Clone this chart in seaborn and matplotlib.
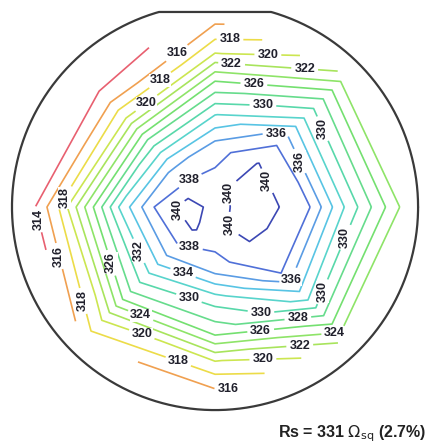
import matplotlib.pyplot as plt
import numpy as np
import seaborn as sns

sns.set_theme(style='white')
plt.rcParams['font.family'] = ['Liberation Sans', 'DejaVu Sans']

# measurement rings (mm from wafer centre) and rays (deg, ccw from east)
radii = [0, 15, 30, 46, 62, 77, 92]
angles = [0, 45, 90, 135, 180, 225, 270, 315]

# sheet resistance (ohm/sq) along each ray, centre -> edge
rs_e = [339.5, 340.5, 340.2, 338.3, 332.5, 328.0, 323.7]
rs_ne = [339.5, 340.3, 340.1, 337.5, 332.0, 327.5, 322.5]
rs_n = [339.5, 338.5, 336.8, 331.8, 326.0, 319.5, 315.5]
rs_nw = [339.5, 338.8, 335.5, 328.5, 320.0, 314.5, 312.5]
rs_w = [339.5, 340.8, 338.0, 332.7, 325.0, 318.0, 312.8]
rs_sw = [339.5, 340.2, 337.2, 332.0, 327.0, 320.5, 316.5]
rs_s = [339.5, 338.8, 337.1, 330.8, 326.5, 319.5, 315.3]
rs_se = [339.5, 340.3, 339.8, 338.0, 333.0, 327.5, 322.5]

levels = [314, 316, 318, 320, 322, 324, 326, 328, 330, 332, 334, 336, 338, 340]
level_colours = ['#e86070', '#f0a050', '#ecdc48', '#cce650', '#a8e45c', '#8ee468',
                 '#74e070', '#66dc8c', '#58d8aa', '#58d4cc', '#58c4e4', '#5a9ce4',
                 '#5070d8', '#3c48b4']
mean_rs = 331
uniformity = 2.7

# where each level is labelled (image pixels)
label_px = {
    314: [(35, 220)],
    316: [(173, 48), (55, 257), (230, 384)],
    318: [(230, 33), (155, 73), (60, 195), (75, 303), (177, 365)],
    320: [(268, 47), (142, 97), (138, 345), (263, 364)],
    322: [(232, 58), (305, 63), (300, 350)],
    324: [(137, 325), (335, 337)],
    326: [(254, 82), (104, 265), (261, 334)],
    328: [(298, 320)],
    330: [(263, 101), (335, 123), (352, 240), (328, 294), (187, 304), (261, 312)],
    332: [(136, 252)],
    334: [(183, 273)],
    336: [(276, 133), (308, 157), (296, 282)],
    338: [(193, 187), (190, 245)],
    340: [(172, 213), (225, 190), (275, 177), (235, 223)],
}

rays = [rs_e, rs_ne, rs_n, rs_nw, rs_w, rs_sw, rs_s, rs_se]
z = np.array(rays + [rays[0]]).T
theta = np.deg2rad(angles + [360])
rr, tt = np.meshgrid(radii, theta, indexing='ij')
xx, yy = rr * np.cos(tt), rr * np.sin(tt)

fig = plt.figure(figsize=(4.26, 4.45), dpi=100)
ax = fig.add_axes([0, 0, 1, 1])
ax.set_xlim(-105.9, 103.9)
ax.set_ylim(-117.2, 102.0)
ax.axis('off')

# one contour set per level so each label lands on its own line
for lev, col in zip(levels, level_colours):
    cs = ax.contour(xx, yy, z, levels=[lev], colors=[col], linewidths=1.2)
    manual = [((px - 215) / 2.03, (207 - py) / 2.03) for px, py in label_px[lev]]
    texts = ax.clabel(cs, fmt='%d', fontsize=9, colors='#20202c',
                      manual=manual, inline=True, inline_spacing=3)
    for t in texts:
        # labels are either upright or turned a quarter
        r = t.get_rotation() % 180
        t.set_rotation(90 if 50 < r < 130 else 0)
        t.set_fontweight('bold')
        t.set_bbox(dict(facecolor='white', edgecolor='none', pad=0.3))
        t.set_zorder(5)

# wafer outline with flat on top
a = np.linspace(0, 2 * np.pi, 721)
ax.plot(100 * np.cos(a), np.minimum(100 * np.sin(a), 96.1), color='#3a3a3a', lw=1.6)

ax.text(31.0, -113.3, r'Rs = %d $\Omega_{\rm sq}$ (%.1f%%)' % (mean_rs, uniformity),
        fontsize=11.5, fontweight='bold', color='#222222', va='baseline', ha='left')

fig.savefig('out.png', dpi=100, facecolor='white')
